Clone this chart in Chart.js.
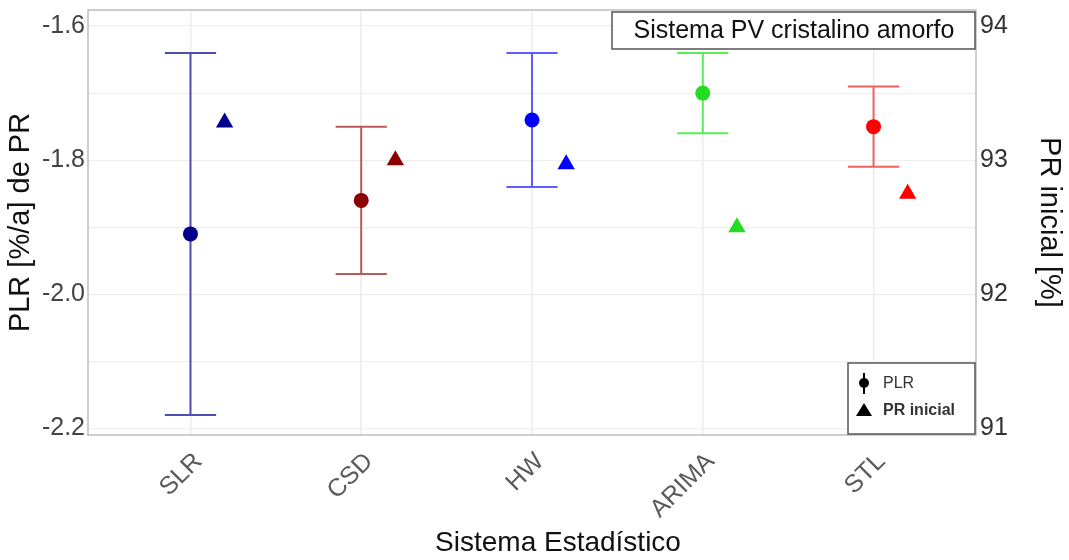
<!DOCTYPE html>
<html>
<head>
<title>PLR y PR inicial</title>
<meta charset="UTF-8">
<script src="https://cdn.jsdelivr.net/npm/chart.js"></script>
<style>
  body { margin: 0; background: #fff; }
</style>
</head>
<body>
<canvas id="chart" width="1069" height="560"></canvas>
<script>
// data
const categories = ["SLR", "CSD", "HW", "ARIMA", "STL"];
const plr = [-1.91, -1.86, -1.74, -1.70, -1.75];
const plrLow = [-2.18, -1.97, -1.84, -1.76, -1.81];
const plrHigh = [-1.64, -1.75, -1.64, -1.64, -1.69];
const prInicial = [93.28, 93.0, 92.97, 92.5, 92.75];

// colours per system
const pointColors = ["#00008b", "#8b0000", "#0000ff", "#22dd22", "#ff0000"];
const barColors = ["#4e4eb4", "#b85a5a", "#5c5cff", "#55ee55", "#f06262"];

const FONT = "'Liberation Sans', Arial, sans-serif";

const plrPoints = plr.map((v, i) => ({ x: i + 1, y: v }));
const prPoints = prInicial.map((v, i) => ({ x: i + 1.2, y: v }));

// error bars drawn under the points, using the chart scales
const errorBars = {
  id: "errorBars",
  beforeDatasetsDraw(chart) {
    const ctx = chart.ctx;
    const xs = chart.scales.x, ys = chart.scales.y;
    ctx.save();
    ctx.lineWidth = 2;
    for (let i = 0; i < categories.length; i++) {
      const x = xs.getPixelForValue(i + 1);
      const x0 = xs.getPixelForValue(i + 1 - 0.15);
      const x1 = xs.getPixelForValue(i + 1 + 0.15);
      const yt = ys.getPixelForValue(plrHigh[i]);
      const yb = ys.getPixelForValue(plrLow[i]);
      ctx.strokeStyle = barColors[i];
      ctx.beginPath();
      ctx.moveTo(x, yt); ctx.lineTo(x, yb);
      ctx.moveTo(x0, yt); ctx.lineTo(x1, yt);
      ctx.moveTo(x0, yb); ctx.lineTo(x1, yb);
      ctx.stroke();
    }
    ctx.restore();
  },
  afterDraw(chart) {
    const ctx = chart.ctx;
    const a = chart.chartArea;
    ctx.save();
    // panel border
    ctx.strokeStyle = "#bdbdbd";
    ctx.lineWidth = 1.5;
    ctx.strokeRect(a.left, a.top, a.right - a.left, a.bottom - a.top);

    // title box
    ctx.fillStyle = "#fff";
    ctx.fillRect(a.right - 364, a.top + 2, 363, 37);
    ctx.strokeStyle = "#555";
    ctx.lineWidth = 1.5;
    ctx.strokeRect(a.right - 364, a.top + 2, 363, 37);
    ctx.fillStyle = "#111";
    ctx.font = "25px " + FONT;
    ctx.textAlign = "center";
    ctx.textBaseline = "middle";
    ctx.fillText("Sistema PV cristalino amorfo", a.right - 182, a.top + 21);

    // legend box
    const lx = a.right - 128, ly = a.bottom - 72;
    ctx.fillStyle = "#fff";
    ctx.fillRect(lx, ly, 127, 71);
    ctx.strokeStyle = "#555";
    ctx.strokeRect(lx, ly, 127, 71);
    ctx.fillStyle = "#000";
    ctx.strokeStyle = "#000";
    ctx.lineWidth = 2;
    ctx.beginPath();
    ctx.moveTo(lx + 16, ly + 10); ctx.lineTo(lx + 16, ly + 31);
    ctx.stroke();
    ctx.beginPath();
    ctx.arc(lx + 16, ly + 20, 5, 0, Math.PI * 2);
    ctx.fill();
    ctx.beginPath();
    ctx.moveTo(lx + 16, ly + 40);
    ctx.lineTo(lx + 24, ly + 53);
    ctx.lineTo(lx + 8, ly + 53);
    ctx.closePath();
    ctx.fill();
    ctx.fillStyle = "#333";
    ctx.font = "16px " + FONT;
    ctx.textAlign = "left";
    ctx.fillText("PLR", lx + 35, ly + 21);
    ctx.font = "bold 16px " + FONT;
    ctx.fillText("PR inicial", lx + 35, ly + 48);

    // x axis title
    ctx.fillStyle = "#111";
    ctx.font = "28px " + FONT;
    ctx.textAlign = "center";
    ctx.fillText("Sistema Estadístico", 558, 543);
    ctx.restore();
  }
};

new Chart(document.getElementById("chart"), {
  type: "scatter",
  data: {
    datasets: [
      {
        label: "PLR",
        data: plrPoints,
        yAxisID: "y",
        pointStyle: "circle",
        pointRadius: 7.5,
        pointBorderWidth: 0,
        pointBackgroundColor: pointColors
      },
      {
        label: "PR inicial",
        data: prPoints,
        yAxisID: "y2",
        pointStyle: "triangle",
        pointRadius: 10,
        pointBorderWidth: 0,
        pointBackgroundColor: pointColors
      }
    ]
  },
  plugins: [errorBars],
  options: {
    responsive: false,
    animation: false,
    layout: { padding: { top: 10 } },
    plugins: {
      legend: { display: false },
      tooltip: { enabled: false }
    },
    scales: {
      x: {
        type: "linear",
        min: 0.4,
        max: 5.6,
        afterFit: s => { s.height = 125; },
        grid: { color: "#ececec", lineWidth: 1.5, drawTicks: false },
        border: { display: false },
        ticks: {
          stepSize: 1,
          includeBounds: false,
          autoSkip: false,
          minRotation: 45,
          maxRotation: 45,
          padding: 12,
          labelOffset: 8,
          color: "#5a5a5a",
          font: { family: FONT, size: 25 },
          callback: v => categories[v - 1]
        }
      },
      y: {
        position: "left",
        min: -2.21,
        max: -1.576,
        afterFit: s => { s.width = 88; s.paddingTop = 0; s.paddingBottom = 0; },
        grid: { color: "#efefef", lineWidth: 1.2, drawTicks: false },
        border: { display: false },
        ticks: {
          stepSize: 0.1,
          includeBounds: false,
          padding: 3,
          color: "#444",
          font: { family: FONT, size: 25 },
          callback: v => (Math.round(v * 10) % 2 === 0 ? v.toFixed(1) : "")
        },
        title: {
          display: true,
          text: "PLR [%/a] de PR",
          color: "#111",
          font: { family: FONT, size: 29 },
          padding: { top: 4, bottom: 0 }
        }
      },
      y2: {
        position: "right",
        min: 90.95,
        max: 94.12,
        afterFit: s => { s.width = 93; s.paddingTop = 0; s.paddingBottom = 0; },
        grid: { display: false, drawTicks: false },
        border: { display: false },
        ticks: {
          stepSize: 1,
          includeBounds: false,
          padding: 4,
          color: "#333",
          font: { family: FONT, size: 25 }
        },
        title: {
          display: true,
          text: "PR inicial [%]",
          color: "#111",
          font: { family: FONT, size: 29 },
          padding: { top: 3, bottom: 0 }
        }
      }
    }
  }
});
</script>
</body>
</html>
